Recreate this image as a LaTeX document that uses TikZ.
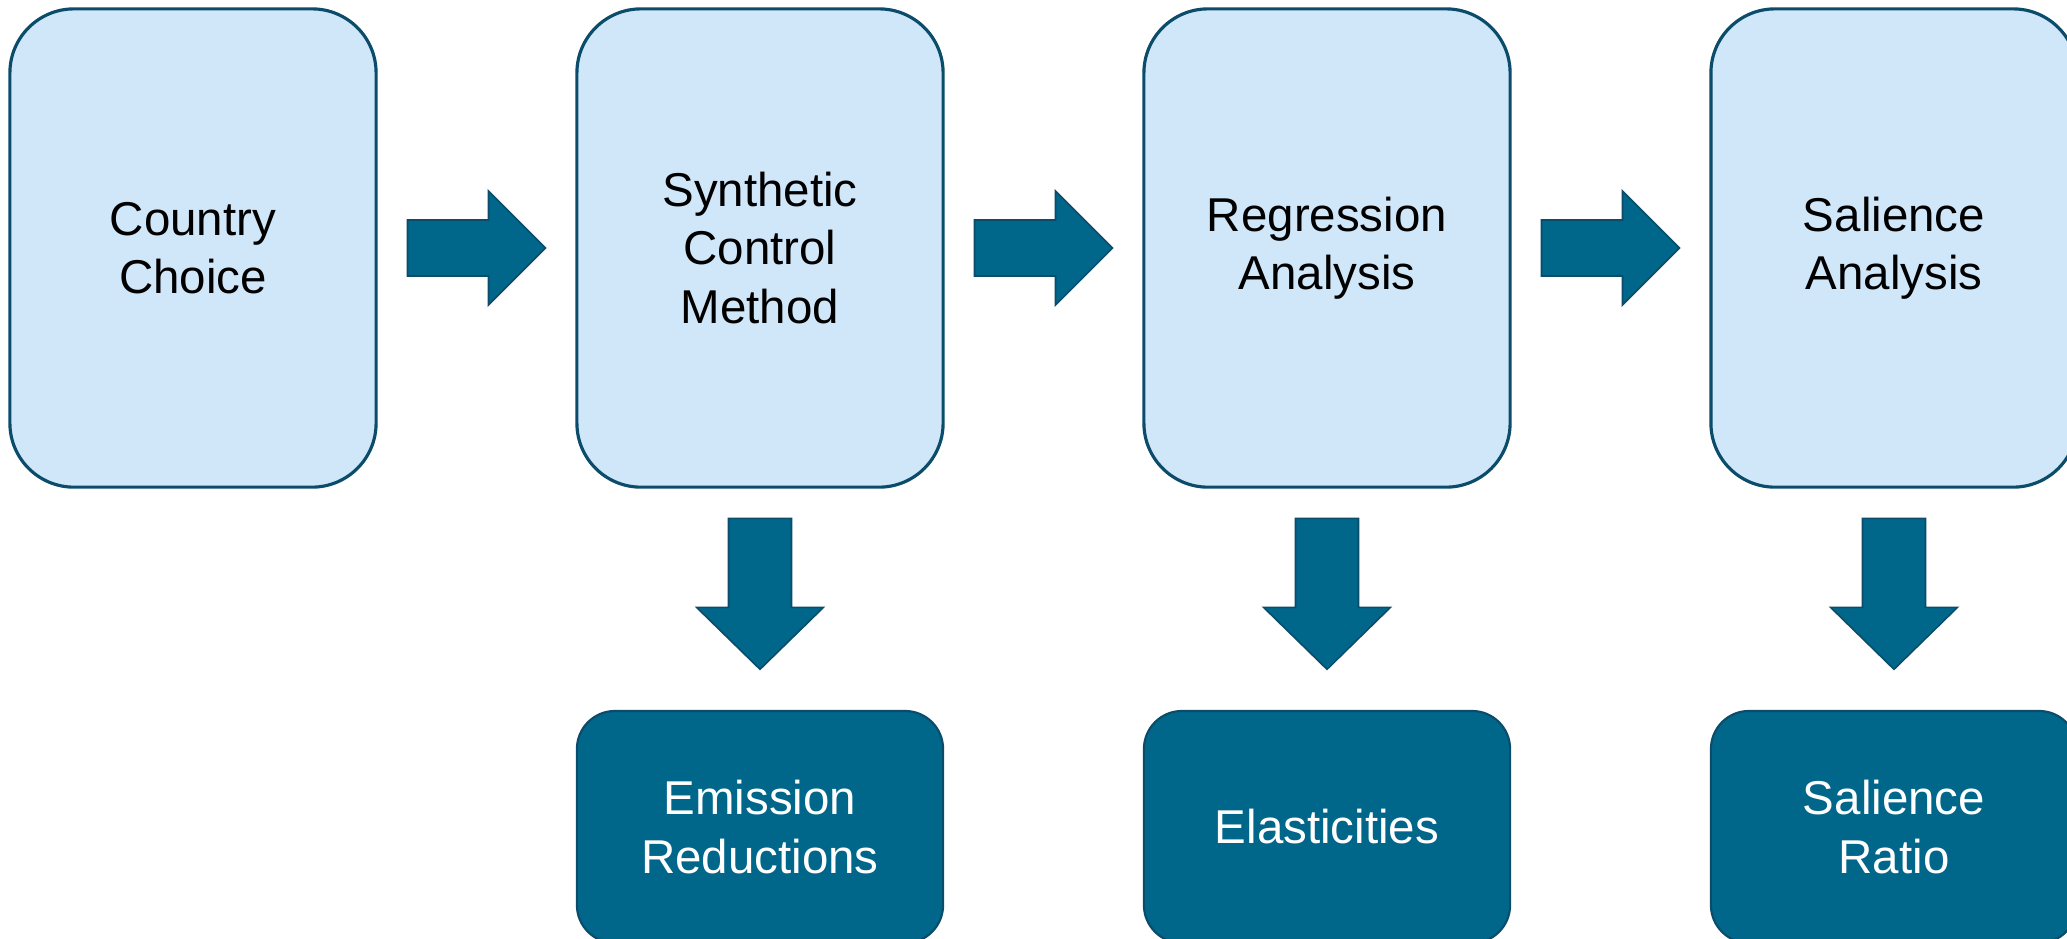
\documentclass[tikz,border=0pt]{standalone}
\usepackage{fontspec}
\setmainfont{Liberation Sans}
\usetikzlibrary{calc}

\definecolor{stagefill}{HTML}{D0E6F9}
\definecolor{resultfill}{HTML}{00668A}
\definecolor{edgeblue}{HTML}{0B4C6B}

\tikzset{
  stagebox/.style={draw=edgeblue, line width=0.9pt, fill=stagefill,
    rounded corners=0.64cm, minimum width=3.66cm, minimum height=4.78cm,
    inner sep=0pt, align=center, text=black,
    font=\fontsize{13.5}{16.6}\selectfont},
  resultbox/.style={draw=edgeblue, line width=0.6pt, fill=resultfill,
    rounded corners=0.38cm, minimum width=3.66cm, minimum height=2.32cm,
    inner sep=0pt, align=center, text=white,
    font=\fontsize{13.5}{16.6}\selectfont},
  blockarrow/.style={draw=edgeblue, line width=0.45pt, fill=resultfill, line join=miter},
  rightblock/.pic={
    \draw[blockarrow] (-69,-28) -- (12,-28) -- (12,-57) -- (69,0)
      -- (12,57) -- (12,28) -- (-69,28) -- cycle;
  },
  downblock/.pic={
    \draw[blockarrow] (-31.5,-75.5) -- (31.5,-75.5) -- (31.5,13.5)
      -- (63.5,13.5) -- (0,75.5) -- (-63.5,13.5) -- (-31.5,13.5) -- cycle;
  }
}

\begin{document}
\begin{tikzpicture}[x=0.01cm, y=-0.01cm]
  \clip (0,0) rectangle (2067,938);

  % method stages
  \node[stagebox] (s1) at (193,248)  {Country\\Choice};
  \node[stagebox] (s2) at (760,248)  {Synthetic\\Control\\Method};
  \node[stagebox] (s3) at (1327,248) {Regression\\Analysis};
  \node[stagebox] (s4) at (1894,248) {Salience\\Analysis};

  % outputs of the stages
  \node[resultbox] (r2) at (760,827)  {Emission\\Reductions};
  \node[resultbox] (r3) at (1327,827) {Elasticities};
  \node[resultbox] (r4) at (1894,827) {Salience\\Ratio};

  % flow between stages
  \pic at ($(s1.east)!0.5!(s2.west)$) {rightblock};
  \pic at ($(s2.east)!0.5!(s3.west)$) {rightblock};
  \pic at ($(s3.east)!0.5!(s4.west)$) {rightblock};

  % stage to output
  \pic at ($(s2.south)!0.5!(r2.north)+(0,-5.5)$) {downblock};
  \pic at ($(s3.south)!0.5!(r3.north)+(0,-5.5)$) {downblock};
  \pic at ($(s4.south)!0.5!(r4.north)+(0,-5.5)$) {downblock};
\end{tikzpicture}
\end{document}
